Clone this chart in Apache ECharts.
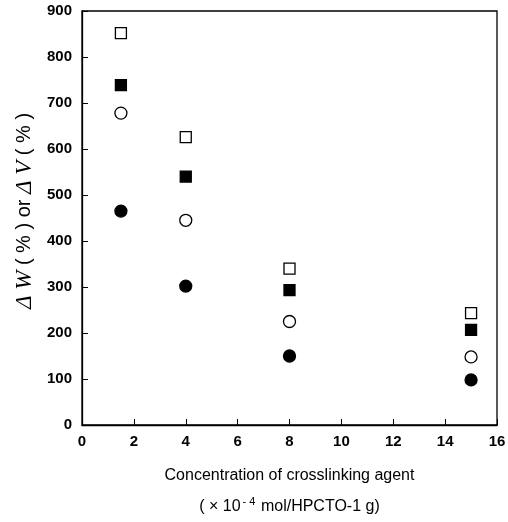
<!DOCTYPE html>
<html><head><meta charset="utf-8">
<script src="https://cdn.jsdelivr.net/npm/echarts@6/dist/echarts.min.js"></script>
<style>html,body{margin:0;padding:0;background:#fff}#c{width:508px;height:522px}</style>
</head><body><div id="c"></div>
<script>
const xValues = [1.5, 4, 8, 15];
const openSquare = [852, 626, 340, 243];
const filledSquare = [739, 540, 293, 207];
const openCircle = [678, 445, 225, 148];
const filledCircle = [465, 302, 150, 98];
const xTicks = [0, 2, 4, 6, 8, 10, 12, 14, 16];
const yTicks = [0, 100, 200, 300, 400, 500, 600, 700, 800, 900];

const pair = arr => xValues.map((x, i) => [x, arr[i]]);
const font = 'Liberation Sans, Arial, sans-serif';
const serif = 'Liberation Serif, Times New Roman, serif';
function s(name, data, symbol, filled, size) {
  return {
    name, type: 'scatter', data: pair(data), symbol, symbolSize: size,
    itemStyle: { color: filled ? '#000' : '#fff', borderColor: '#000', borderWidth: 1.3, opacity: 1 },
    emphasis: { disabled: true }
  };
}
const chart = echarts.init(document.getElementById('c'));
chart.setOption({
  animation: false,
  backgroundColor: '#fff',
  grid: { left: 82, right: 11, top: 11, bottom: 97, outerBoundsMode: 'none', containLabel: false,
    show: true, borderColor: '#000', borderWidth: 1.3, backgroundColor: 'transparent' },
  xAxis: {
    type: 'value', min: 0, max: 16, interval: 2,
    axisLine: { lineStyle: { color: '#000', width: 1.3 } },
    axisTick: { inside: true, length: 6, lineStyle: { color: '#000' } },
    splitLine: { show: false },
    axisLabel: { color: '#000', fontFamily: font, fontSize: 15, fontWeight: 'bold', margin: 9, formatter: v => xTicks.includes(v) ? String(v) : '' },
    name: 'Concentration of crosslinking agent\n( × 10{sup|- 4} mol/HPCTO-1 g)',
    nameLocation: 'middle', nameGap: 35,
    nameTextStyle: { color: '#000', fontFamily: font, fontSize: 16, lineHeight: 31,
      rich: { sup: { fontSize: 11, fontFamily: font, color: '#000', lineHeight: 14, padding: [0, 1, 10, 2] } } }
  },
  yAxis: {
    type: 'value', min: 0, max: 900, interval: 100,
    axisLine: { show: true, lineStyle: { color: '#000', width: 1.3 } },
    axisTick: { show: true, inside: true, length: 6, lineStyle: { color: '#000' } },
    splitLine: { show: false },
    axisLabel: { color: '#000', fontFamily: font, fontSize: 15, fontWeight: 'bold', margin: 10, formatter: v => yTicks.includes(v) ? String(v) : '' },
    name: '{i|Δ W} ( % ) or {i|Δ V} ( % )',
    nameLocation: 'middle', nameGap: 46, nameRotate: 90,
    nameTextStyle: { color: '#000', fontFamily: font, fontSize: 20, padding: [0, 0, 0, 14],
      rich: { i: { fontStyle: 'italic', fontFamily: serif, fontSize: 23, color: '#000' } } }
  },
  series: [
    s('open square', openSquare, 'rect', false, 11),
    s('filled square', filledSquare, 'rect', true, 11),
    s('open circle', openCircle, 'circle', false, 12),
    s('filled circle', filledCircle, 'circle', true, 12)
  ]
});
</script></body></html>
